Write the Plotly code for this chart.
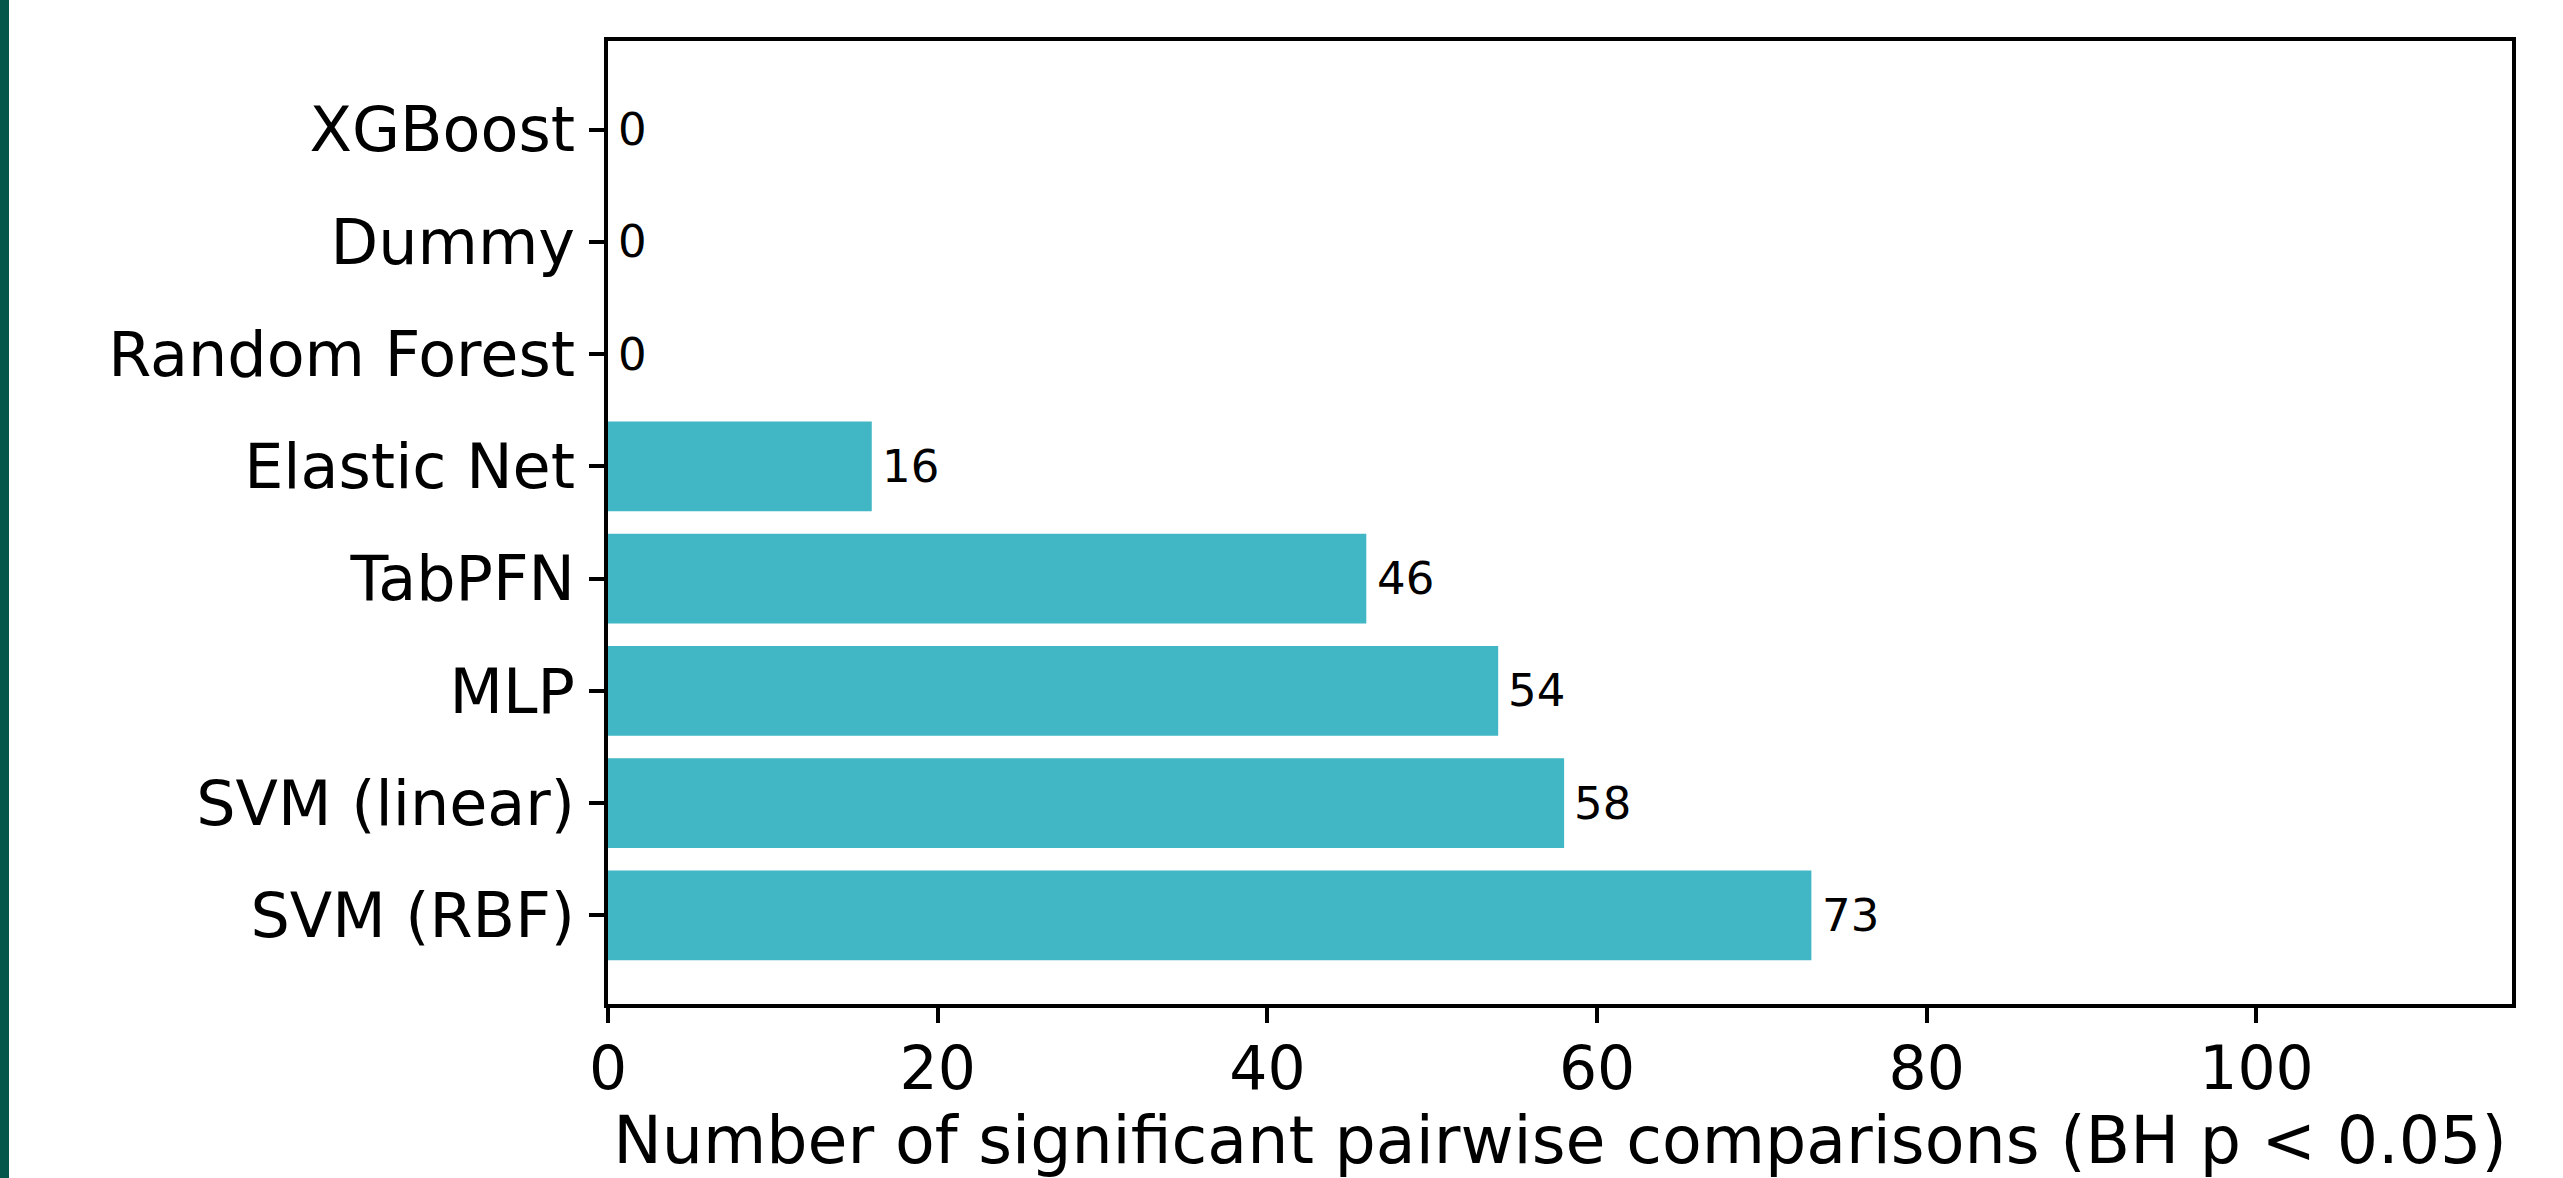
import plotly.graph_objects as go

models = ["SVM (RBF)", "SVM (linear)", "MLP", "TabPFN", "Elastic Net",
          "Random Forest", "Dummy", "XGBoost"]
sig_counts = [73, 58, 54, 46, 16, 0, 0, 0]
x_ticks = [0, 20, 40, 60, 80, 100]

BAR_COLOR = "#41b6c4"
FONT = "DejaVu Sans"
LW = 4

fig = go.Figure()
fig.add_trace(go.Bar(
    x=sig_counts, y=models, orientation="h",
    marker=dict(color=BAR_COLOR, line=dict(width=0)),
    width=0.8, showlegend=False, hoverinfo="x+y",
))

for m, v in zip(models, sig_counts):
    fig.add_annotation(x=v + 0.5, y=m, text=str(v), showarrow=False,
                       xanchor="left", yanchor="middle",
                       font=dict(family=FONT, size=45, color="black"))

# dark green strip at the left edge of the page
fig.add_shape(type="rect", xref="paper", yref="paper",
              xsizemode="pixel", ysizemode="pixel",
              xanchor=0, yanchor=0,
              x0=-608, x1=-599, y0=-300, y1=1400,
              fillcolor="#03574a", line=dict(width=0), layer="above")

fig.update_layout(
    width=2563, height=1178,
    margin=dict(l=608, r=51, t=41, b=174, pad=0),
    paper_bgcolor="white", plot_bgcolor="white",
    font=dict(family=FONT, color="black"),
    bargap=0.2,
)
fig.update_xaxes(
    range=[0, 115.5], tickvals=x_ticks, ticktext=[str(t) for t in x_ticks],
    showgrid=False, zeroline=False,
    showline=True, mirror=True, linecolor="black", linewidth=LW,
    ticks="outside", ticklen=14.6, tickwidth=LW, tickcolor="black",
    tickfont=dict(family=FONT, size=60, color="black"),
    ticklabelstandoff=-6,
    title=dict(text="Number of significant pairwise comparisons (BH p < 0.05)",
               font=dict(family=FONT, size=65, color="black"), standoff=10),
)
fig.update_yaxes(
    type="category", categoryorder="array", categoryarray=models,
    range=[-0.79, 7.79],
    showgrid=False, zeroline=False,
    showline=True, mirror=True, linecolor="black", linewidth=LW,
    ticks="outside", ticklen=14.6, tickwidth=LW, tickcolor="black",
    tickfont=dict(family=FONT, size=62, color="black"),
    ticklabelstandoff=2,
)

fig.write_html("out.html")
